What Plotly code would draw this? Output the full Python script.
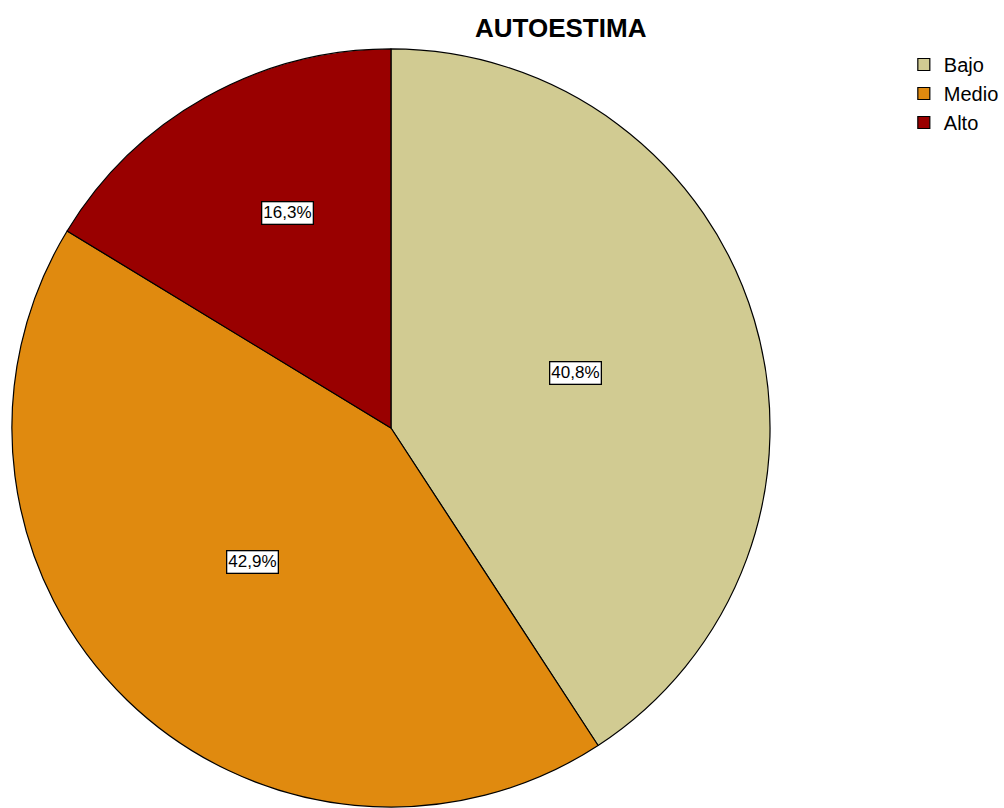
import math
import plotly.graph_objects as go

categories = ["Bajo", "Medio", "Alto"]
values = [40.8, 42.9, 16.3]
colors = ["#D1CB92", "#E08A0F", "#990000"]
label_radius = [0.51, 0.51, 0.63]
label_angle_shift = [0.0, 2.0, 3.5]

W, H = 1004, 808
x0, x1 = 12, 777
ytop = 48
r = min(x1 - x0, H - ytop) / 2
cx = (x0 + x1) / 2
cy = ytop + r

fig = go.Figure(go.Pie(
    labels=categories,
    values=values,
    sort=False,
    direction="clockwise",
    rotation=0,
    marker=dict(colors=colors, line=dict(color="black", width=1.2)),
    textinfo="none",
    hoverinfo="label+percent",
    domain=dict(x=[x0 / W, x1 / W], y=[0, 1 - ytop / H]),
))

total = sum(values)
cum = 0.0
annotations = []
for v, f, sh in zip(values, label_radius, label_angle_shift):
    mid = (cum + v / 2) / total * 2 * math.pi + math.radians(sh)
    cum += v
    px = cx + f * r * math.sin(mid)
    py = cy - f * r * math.cos(mid)
    annotations.append(dict(
        x=px / W, y=1 - py / H, xref="paper", yref="paper",
        xanchor="center", yanchor="middle",
        text=f"{v:.1f}%".replace(".", ","), showarrow=False,
        font=dict(family="Liberation Sans, Arial", size=17, color="black"),
        bgcolor="white", bordercolor="black", borderwidth=1.3, borderpad=1,
    ))

annotations.append(dict(
    x=566 / W, y=1 - 28 / H, xref="paper", yref="paper",
    xanchor="center", yanchor="middle",
    text="<b>AUTOESTIMA</b>", showarrow=False,
    font=dict(family="Liberation Sans, Arial", size=26, color="black"),
))

fig.update_layout(
    width=W, height=H,
    margin=dict(l=0, r=0, t=0, b=0),
    paper_bgcolor="white", plot_bgcolor="white",
    annotations=annotations,
    showlegend=True,
    legend=dict(
        x=912 / W, y=1 - 45 / H, xanchor="left", yanchor="top",
        font=dict(family="Liberation Sans, Arial", size=20, color="black"),
        tracegroupgap=0, itemwidth=30, bgcolor="rgba(0,0,0,0)",
    ),
)

fig.write_html(
    "out.html",
    config={"displayModeBar": False},
    post_script="document.body.style.margin='0';document.body.style.overflow='hidden';",
)
